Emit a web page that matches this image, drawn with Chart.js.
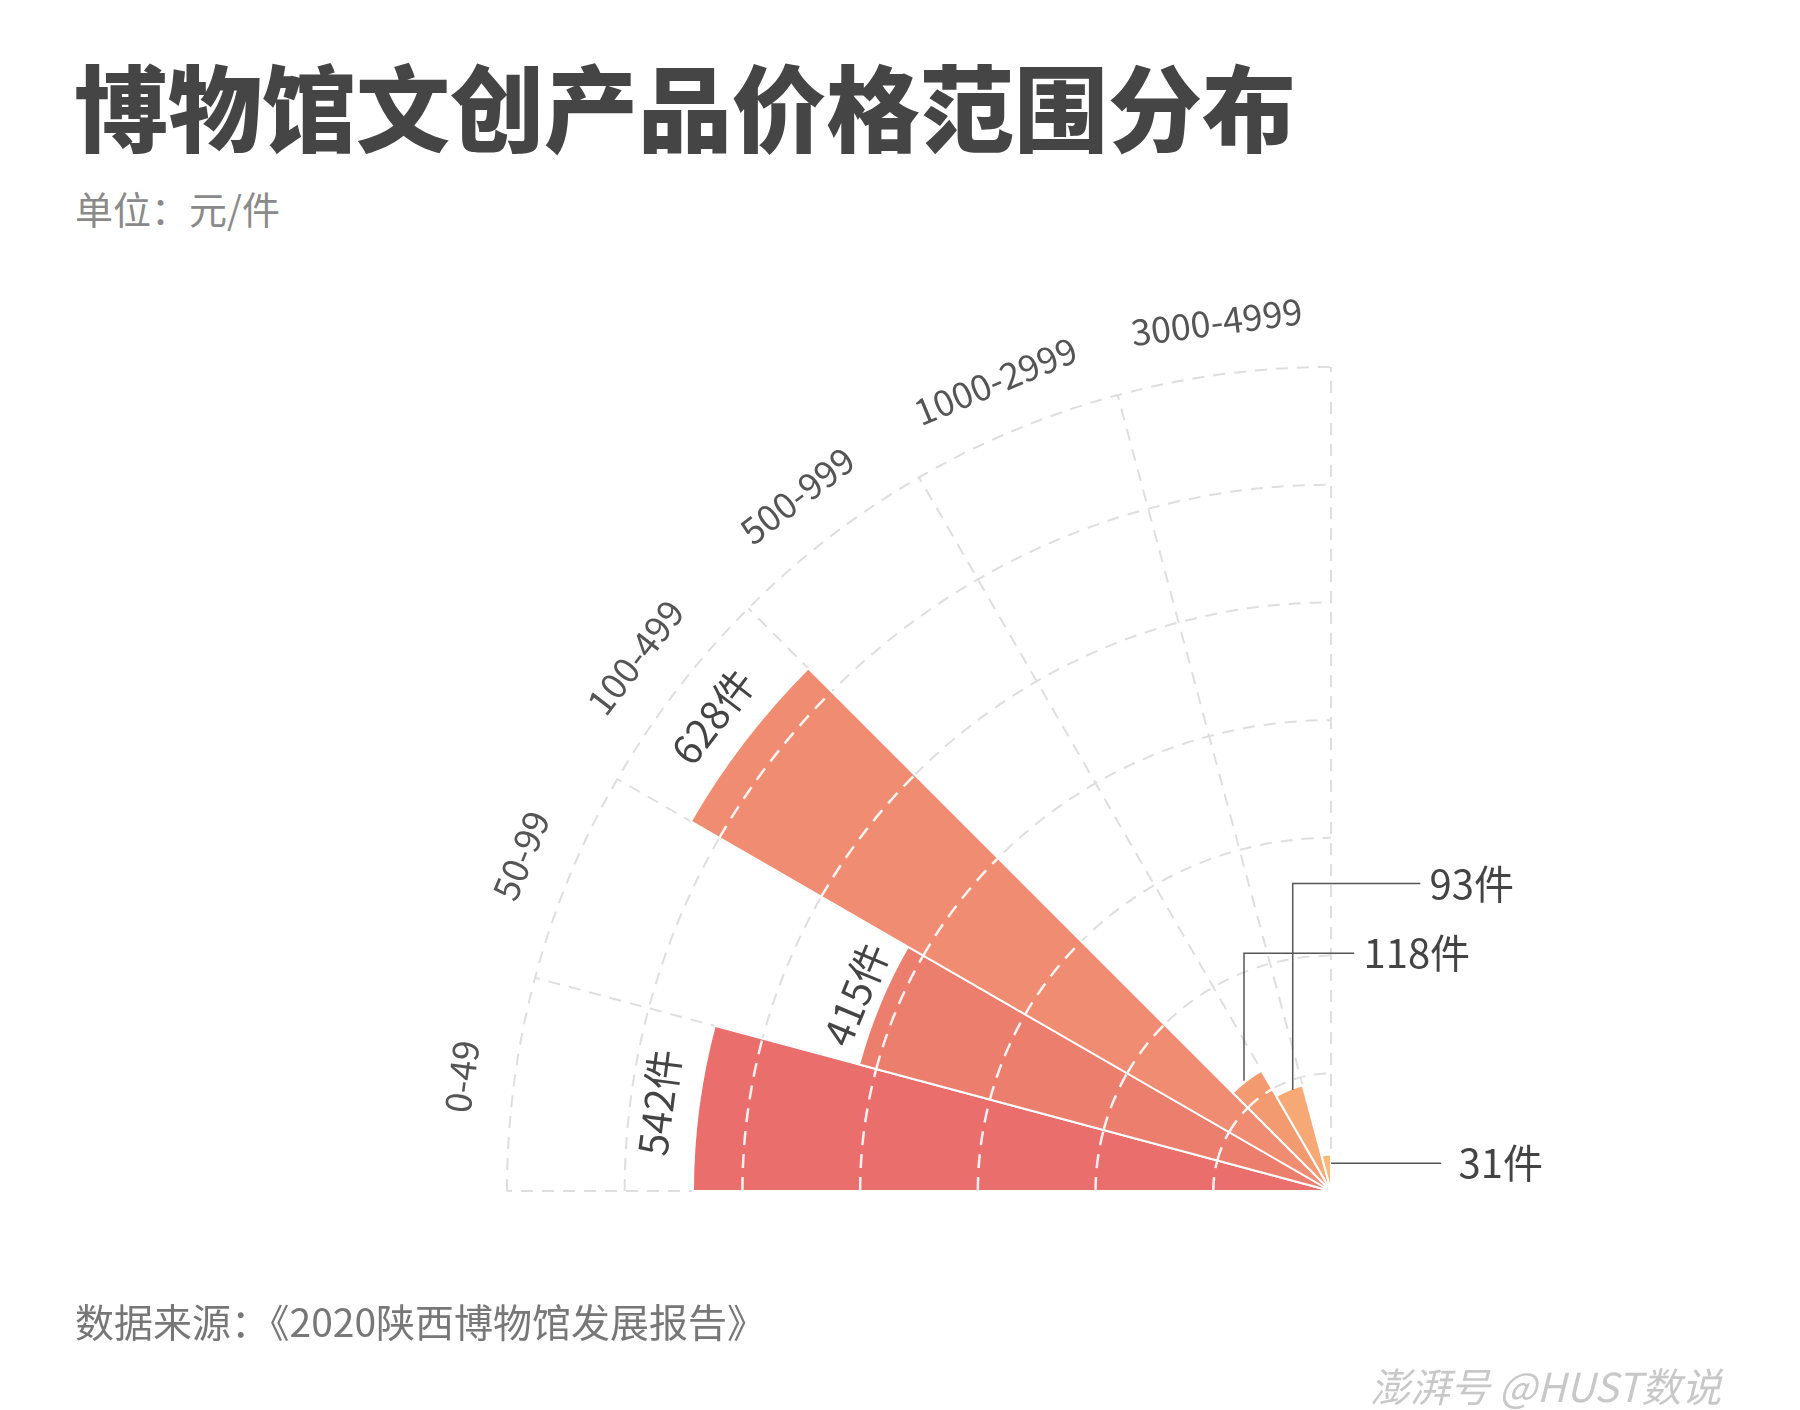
<!DOCTYPE html>
<html><head><meta charset="utf-8">
<script src="https://cdn.jsdelivr.net/npm/chart.js@4"></script>
<style>
html,body{margin:0;width:1800px;height:1410px;overflow:hidden;background:#fff;font-family:"Noto Sans CJK SC","Noto Sans",sans-serif;}
#wrap{position:absolute;left:331px;top:191px;width:2000px;height:2000px;}
.t{position:absolute;white-space:nowrap;}
</style></head><body>
<div class="t" style="left:74px;top:46px;font-size:94px;line-height:116px;font-weight:900;color:#454545;">博物馆文创产品价格范围分布</div>
<div class="t" style="left:75px;top:180px;font-size:38px;color:#8a8a8a;">单位：元/件</div>
<div id="wrap"><canvas id="c" width="2000" height="2000"></canvas></div>
<div class="t" style="left:75px;top:1292px;font-size:39px;color:#777;">数据来源：《2020陕西博物馆发展报告》</div>
<div class="t" style="left:1370px;top:1356px;font-size:40px;color:#c8c8c8;font-style:italic;">澎湃号 @HUST数说</div>
<script>
const categories=["0-49","50-99","100-499","500-999","1000-2999","3000-4999"];
const counts=[542,415,628,118,93,31];
const colors=["#e96e6c","#ec7e6e","#f08c71","#f39a70","#f6a974","#f8b97a"];
const gridValues=[100,200,300,400,500,600,700];

const data=counts.concat(new Array(18).fill(0));
const bg=colors.concat(new Array(18).fill("rgba(0,0,0,0)"));
const D=Math.PI/180;

const plugin={
 id:'custom',
 beforeDatasetsDraw(chart){
  const s=chart.scales.r,ctx=chart.ctx,cx=s.xCenter,cy=s.yCenter;
  ctx.save();ctx.strokeStyle="#dedede";ctx.lineWidth=2;ctx.setLineDash([12,9]);
  gridValues.forEach(v=>{const r=s.getDistanceFromCenterForValue(v);ctx.beginPath();ctx.arc(cx,cy,r,Math.PI,1.5*Math.PI);ctx.stroke();});
  const R=s.getDistanceFromCenterForValue(700);
  for(let j=0;j<=6;j++){const a=(180+15*j)*D;ctx.beginPath();ctx.moveTo(cx,cy);ctx.lineTo(cx+R*Math.cos(a),cy+R*Math.sin(a));ctx.stroke();}
  ctx.restore();
 },
 afterDatasetsDraw(chart){
  const s=chart.scales.r,ctx=chart.ctx,cx=s.xCenter,cy=s.yCenter;
  ctx.save();ctx.strokeStyle="rgba(255,255,255,0.9)";ctx.lineWidth=2.5;ctx.setLineDash([14,9]);
  counts.forEach((c,i)=>{gridValues.forEach(v=>{if(v<c){const r=s.getDistanceFromCenterForValue(v);ctx.beginPath();ctx.arc(cx,cy,r,(180+15*i)*D,(195+15*i)*D);ctx.stroke();}});});
  ctx.restore();
  ctx.save();ctx.textAlign="center";ctx.textBaseline="middle";
  categories.forEach((c,i)=>{const th=7.5+15*i,a=(180+th)*D,r=s.getDistanceFromCenterForValue(745);
   ctx.save();ctx.translate(cx+r*Math.cos(a),cy+r*Math.sin(a));ctx.rotate(-(90-th)*D);
   ctx.font="36px 'Noto Sans CJK SC'";ctx.fillStyle="#555";ctx.fillText(c,0,0);ctx.restore();});
  [0,1,2].forEach(i=>{const th=7.5+15*i,a=(180+th)*D,r=s.getDistanceFromCenterForValue(counts[i]+(i==1?22:34));
   ctx.save();ctx.translate(cx+r*Math.cos(a),cy+r*Math.sin(a));ctx.rotate(-(90-th)*D);
   ctx.font="40px 'Noto Sans CJK SC'";ctx.fillStyle="#444";ctx.fillText(counts[i]+"件",0,0);ctx.restore();});
  const f=1.16;
  const leads=[{i:3,p:[[-75,-95],[-75,-205],[20,-205]],t:[28,-205]},{i:4,p:[[-33,-87],[-33,-265],[77,-265]],t:[85,-265]},{i:5,p:[[0,-24],[95,-24]],t:[110,-24]}];
  ctx.strokeStyle="#555";ctx.lineWidth=1.5;ctx.setLineDash([]);ctx.textAlign="left";ctx.font="40px 'Noto Sans CJK SC'";ctx.fillStyle="#444";
  leads.forEach(l=>{ctx.beginPath();l.p.forEach((p,j)=>{const x=cx+p[0]*f,y=cy+p[1]*f;j?ctx.lineTo(x,y):ctx.moveTo(x,y);});ctx.stroke();
   ctx.fillText(counts[l.i]+"件",cx+l.t[0]*f,cy+l.t[1]*f);});
  ctx.restore();
 }
};

new Chart(document.getElementById('c'),{
 type:'polarArea',
 data:{labels:categories.concat(new Array(18).fill("")),datasets:[{data:data,backgroundColor:bg,borderColor:"#fff",borderWidth:2}]},
 options:{responsive:false,animation:false,layout:{padding:176},
  plugins:{legend:{display:false},tooltip:{enabled:false}},
  scales:{r:{startAngle:270,min:0,max:700,ticks:{display:false,stepSize:100},grid:{display:false},angleLines:{display:false},pointLabels:{display:false}}}},
 plugins:[plugin]
});
</script></body></html>
